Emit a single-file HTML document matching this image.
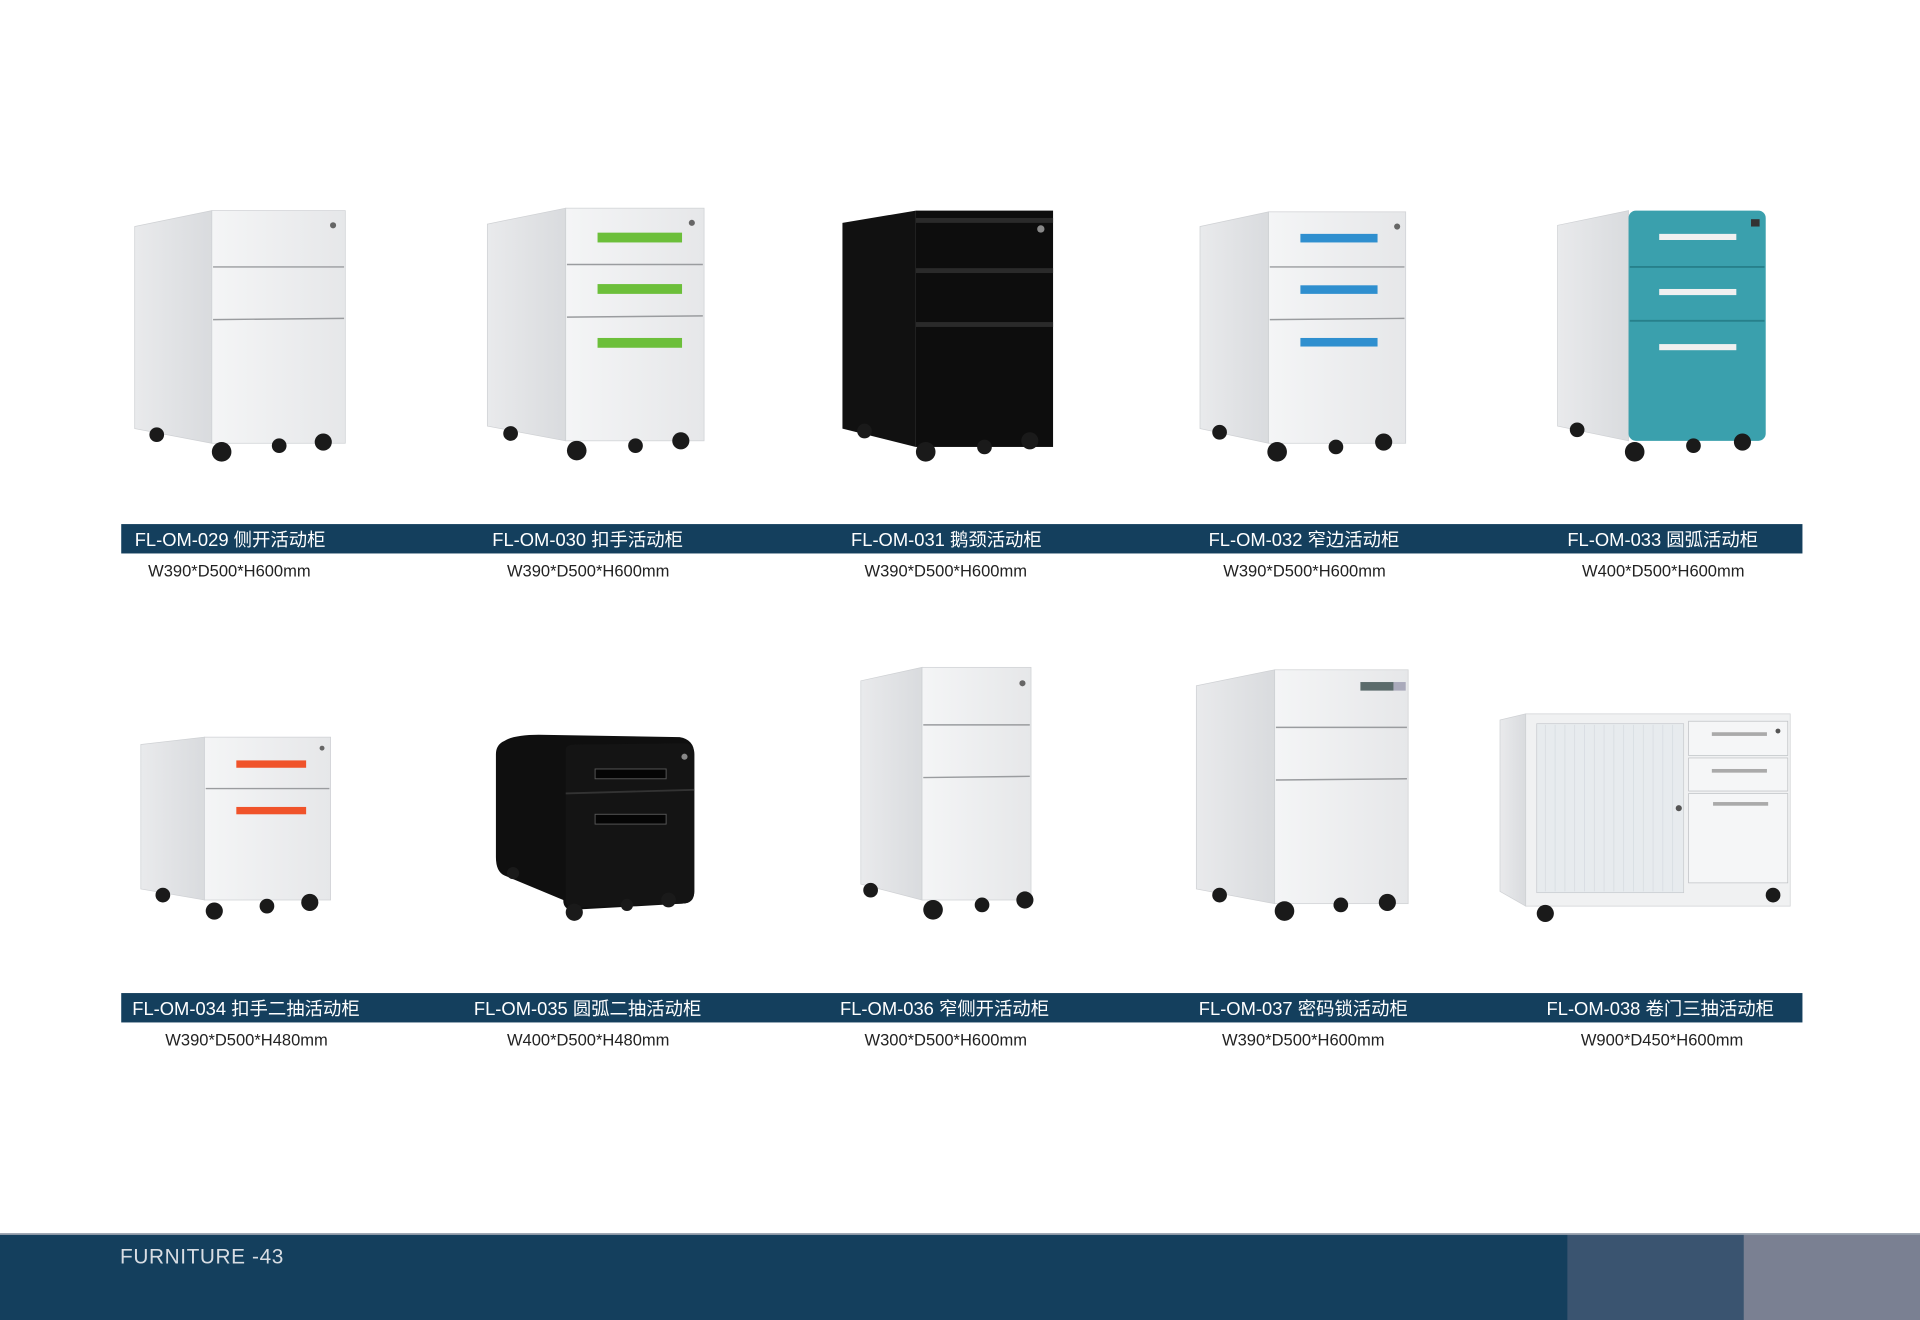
<!DOCTYPE html>
<html><head><meta charset="utf-8"><style>
html,body{margin:0;padding:0;background:#fff;}
svg{display:block;}
text{font-family:"Liberation Sans","Noto Sans CJK SC",sans-serif;}
</style></head><body>
<svg width="1920" height="1320" viewBox="0 0 1568 1078" preserveAspectRatio="none" xmlns="http://www.w3.org/2000/svg">
<rect width="1568" height="1078" fill="#fff"/>
<defs>
<linearGradient id="side" x1="0" x2="1"><stop offset="0" stop-color="#e9eaec"/><stop offset="1" stop-color="#d9dbde"/></linearGradient>
<linearGradient id="front" x1="0" x2="1"><stop offset="0" stop-color="#f4f5f6"/><stop offset="1" stop-color="#e6e7e9"/></linearGradient>
</defs>

<!-- cab1 -->
<polygon points="110,185 173,172 173,362 110,350" fill="url(#side)" stroke="#cfd1d4" stroke-width="0.6"/>
<rect x="173" y="172" width="109" height="190" fill="url(#front)" stroke="#cfd1d4" stroke-width="0.6"/>
<line x1="174" y1="218" x2="281" y2="218" stroke="#9a9c9f" stroke-width="1.2"/>
<line x1="174" y1="261" x2="281" y2="260" stroke="#9a9c9f" stroke-width="1.2"/>
<circle cx="272" cy="184" r="2.5" fill="#666"/>

<!-- cab2 -->
<polygon points="398,183 462,170 462,360 398,348" fill="url(#side)" stroke="#cfd1d4" stroke-width="0.6"/>
<rect x="462" y="170" width="113" height="190" fill="url(#front)" stroke="#cfd1d4" stroke-width="0.6"/>
<line x1="463" y1="216" x2="574" y2="216" stroke="#9a9c9f" stroke-width="1.2"/>
<line x1="463" y1="259" x2="574" y2="258" stroke="#9a9c9f" stroke-width="1.2"/>
<rect x="488" y="190" width="69" height="8" fill="#6cbf3a"/>
<rect x="488" y="232" width="69" height="8" fill="#6cbf3a"/>
<rect x="488" y="276" width="69" height="8" fill="#6cbf3a"/>
<circle cx="565" cy="182" r="2.5" fill="#666"/>

<!-- cab3 black -->
<polygon points="688,182 748,172 748,365 688,350" fill="#111"/>
<rect x="748" y="172" width="112" height="193" fill="#0d0d0d"/>
<rect x="748" y="178" width="112" height="4" fill="#2a2a2a"/>
<rect x="748" y="219" width="112" height="4" fill="#2a2a2a"/>
<rect x="748" y="263" width="112" height="4" fill="#2a2a2a"/>
<circle cx="850" cy="187" r="3" fill="#888"/>

<!-- cab4 -->
<polygon points="980,185 1036,173 1036,362 980,350" fill="url(#side)" stroke="#cfd1d4" stroke-width="0.6"/>
<rect x="1036" y="173" width="112" height="189" fill="url(#front)" stroke="#cfd1d4" stroke-width="0.6"/>
<line x1="1037" y1="218" x2="1147" y2="218" stroke="#9a9c9f" stroke-width="1.2"/>
<line x1="1037" y1="261" x2="1147" y2="260" stroke="#9a9c9f" stroke-width="1.2"/>
<rect x="1062" y="191" width="63" height="7" fill="#2f8fcf"/>
<rect x="1062" y="233" width="63" height="7" fill="#2f8fcf"/>
<rect x="1062" y="276" width="63" height="7" fill="#2f8fcf"/>
<circle cx="1141" cy="185" r="2.5" fill="#666"/>

<!-- cab5 teal -->
<polygon points="1272,184 1330,172 1330,360 1272,348" fill="url(#side)" stroke="#cfd1d4" stroke-width="0.6"/>
<rect x="1330" y="172" width="112" height="188" rx="6" fill="#3aa0ad"/>
<line x1="1331" y1="218" x2="1441" y2="218" stroke="#27808b" stroke-width="1.5"/>
<line x1="1331" y1="262" x2="1441" y2="262" stroke="#27808b" stroke-width="1.5"/>
<rect x="1355" y="191" width="63" height="5" fill="#f0f0f0"/>
<rect x="1355" y="236" width="63" height="5" fill="#f0f0f0"/>
<rect x="1355" y="281" width="63" height="5" fill="#f0f0f0"/>
<rect x="1430" y="179" width="7" height="6" fill="#333"/>

<!-- cab6 -->
<polygon points="115,608 167,602 167,735 115,726" fill="url(#side)" stroke="#cfd1d4" stroke-width="0.6"/>
<rect x="167" y="602" width="103" height="133" fill="url(#front)" stroke="#cfd1d4" stroke-width="0.6"/>
<line x1="168" y1="644" x2="269" y2="644" stroke="#9a9c9f" stroke-width="1.2"/>
<rect x="193" y="621" width="57" height="6" fill="#f0532a"/>
<rect x="193" y="659" width="57" height="6" fill="#f0532a"/>
<circle cx="263" cy="611" r="2" fill="#666"/>

<!-- cab7 black rounded -->
<path d="M412,605 Q420,600 440,600 L555,602 Q567,604 567,616 L567,728 Q567,738 557,738 L468,743 Q460,743 460,735 L412,715 Q405,712 405,700 L405,616 Q405,608 412,605 Z" fill="#0f0f0f"/>
<path d="M462,612 Q462,608 470,608 L560,607 Q567,608 567,616 L567,728 Q567,738 557,738 L468,741 Q462,741 462,734 Z" fill="#141414"/>
<line x1="462" y1="648" x2="567" y2="645" stroke="#333" stroke-width="1.5"/>
<rect x="486" y="628" width="58" height="8" fill="#050505" stroke="#555" stroke-width="0.8"/>
<rect x="486" y="665" width="58" height="8" fill="#050505" stroke="#555" stroke-width="0.8"/>
<circle cx="559" cy="618" r="2.5" fill="#888"/>

<!-- cab8 -->
<polygon points="703,556 753,545 753,735 703,722" fill="url(#side)" stroke="#cfd1d4" stroke-width="0.6"/>
<rect x="753" y="545" width="89" height="190" fill="url(#front)" stroke="#cfd1d4" stroke-width="0.6"/>
<line x1="754" y1="592" x2="841" y2="592" stroke="#9a9c9f" stroke-width="1.2"/>
<line x1="754" y1="635" x2="841" y2="634" stroke="#9a9c9f" stroke-width="1.2"/>
<circle cx="835" cy="558" r="2.5" fill="#666"/>

<!-- cab9 -->
<polygon points="977,560 1041,547 1041,738 977,726" fill="url(#side)" stroke="#cfd1d4" stroke-width="0.6"/>
<rect x="1041" y="547" width="109" height="191" fill="url(#front)" stroke="#cfd1d4" stroke-width="0.6"/>
<line x1="1042" y1="594" x2="1149" y2="594" stroke="#9a9c9f" stroke-width="1.2"/>
<line x1="1042" y1="637" x2="1149" y2="636" stroke="#9a9c9f" stroke-width="1.2"/>
<rect x="1111" y="557" width="27" height="7" fill="#5b6b6b"/>
<rect x="1138" y="557" width="10" height="7" fill="#aab"/>

<!-- cab10 -->
<polygon points="1225,588 1246,583 1246,740 1225,728" fill="url(#side)" stroke="#cfd1d4" stroke-width="0.6"/>
<rect x="1246" y="583" width="216" height="157" fill="#f0f1f2" stroke="#cfd1d4" stroke-width="0.6"/>
<rect x="1255" y="591" width="120" height="138" fill="#e7ebee" stroke="#c8cbcf" stroke-width="0.6"/>
<g stroke="#d6dbe0" stroke-width="0.6">
<line x1="1262" y1="592" x2="1262" y2="728"/><line x1="1270" y1="592" x2="1270" y2="728"/><line x1="1278" y1="592" x2="1278" y2="728"/><line x1="1286" y1="592" x2="1286" y2="728"/><line x1="1294" y1="592" x2="1294" y2="728"/><line x1="1302" y1="592" x2="1302" y2="728"/><line x1="1310" y1="592" x2="1310" y2="728"/><line x1="1318" y1="592" x2="1318" y2="728"/><line x1="1326" y1="592" x2="1326" y2="728"/><line x1="1334" y1="592" x2="1334" y2="728"/><line x1="1342" y1="592" x2="1342" y2="728"/><line x1="1350" y1="592" x2="1350" y2="728"/><line x1="1358" y1="592" x2="1358" y2="728"/><line x1="1366" y1="592" x2="1366" y2="728"/>
</g>
<circle cx="1371" cy="660" r="2.5" fill="#555"/>
<rect x="1379" y="589" width="81" height="28" fill="#f5f6f7" stroke="#bfc2c5" stroke-width="0.6"/>
<rect x="1379" y="619" width="81" height="27" fill="#f5f6f7" stroke="#bfc2c5" stroke-width="0.6"/>
<rect x="1379" y="648" width="81" height="73" fill="#f5f6f7" stroke="#bfc2c5" stroke-width="0.6"/>
<rect x="1398" y="598" width="45" height="3" fill="#aaa"/>
<rect x="1398" y="628" width="45" height="3" fill="#aaa"/>
<rect x="1399" y="655" width="45" height="3" fill="#aaa"/>
<circle cx="1452" cy="597" r="2" fill="#555"/>

<g id="wheels" fill="#1a1a1a">
<circle cx="128" cy="355" r="6"/><circle cx="181" cy="369" r="8"/><circle cx="228" cy="364" r="6"/><circle cx="264" cy="361" r="7"/>
<circle cx="417" cy="354" r="6"/><circle cx="471" cy="368" r="8"/><circle cx="519" cy="364" r="6"/><circle cx="556" cy="360" r="7"/>
<circle cx="706" cy="352" r="6"/><circle cx="756" cy="369" r="8"/><circle cx="804" cy="365" r="6"/><circle cx="841" cy="360" r="7"/>
<circle cx="996" cy="353" r="6"/><circle cx="1043" cy="369" r="8"/><circle cx="1091" cy="365" r="6"/><circle cx="1130" cy="361" r="7"/>
<circle cx="1288" cy="351" r="6"/><circle cx="1335" cy="369" r="8"/><circle cx="1383" cy="364" r="6"/><circle cx="1423" cy="361" r="7"/>
<circle cx="133" cy="731" r="6"/><circle cx="175" cy="744" r="7"/><circle cx="218" cy="740" r="6"/><circle cx="253" cy="737" r="7"/>
<circle cx="419" cy="713" r="5"/><circle cx="469" cy="745" r="7"/><circle cx="512" cy="739" r="5"/><circle cx="546" cy="735" r="6"/>
<circle cx="711" cy="727" r="6"/><circle cx="762" cy="743" r="8"/><circle cx="802" cy="739" r="6"/><circle cx="837" cy="735" r="7"/>
<circle cx="996" cy="731" r="6"/><circle cx="1049" cy="744" r="8"/><circle cx="1095" cy="739" r="6"/><circle cx="1133" cy="737" r="7"/>
<circle cx="1262" cy="746" r="7"/><circle cx="1448" cy="731" r="6"/>
</g>

<!-- label bars -->
<rect x="99" y="428" width="1373" height="24" fill="#143f5d"/>
<rect x="99" y="811" width="1373" height="24" fill="#143f5d"/>
<g fill="#ffffff" font-size="15">
<text x="110" y="446">FL-OM-029 侧开活动柜</text>
<text x="402" y="446">FL-OM-030 扣手活动柜</text>
<text x="695" y="446">FL-OM-031 鹅颈活动柜</text>
<text x="987" y="446">FL-OM-032 窄边活动柜</text>
<text x="1280" y="446">FL-OM-033 圆弧活动柜</text>
<text x="108" y="829">FL-OM-034 扣手二抽活动柜</text>
<text x="387" y="829">FL-OM-035 圆弧二抽活动柜</text>
<text x="686" y="829">FL-OM-036 窄侧开活动柜</text>
<text x="979" y="829">FL-OM-037 密码锁活动柜</text>
<text x="1263" y="829">FL-OM-038 卷门三抽活动柜</text>
</g>
<g fill="#222" font-size="13.5">
<text x="121" y="471">W390*D500*H600mm</text>
<text x="414" y="471">W390*D500*H600mm</text>
<text x="706" y="471">W390*D500*H600mm</text>
<text x="999" y="471">W390*D500*H600mm</text>
<text x="1292" y="471">W400*D500*H600mm</text>
<text x="135" y="854">W390*D500*H480mm</text>
<text x="414" y="854">W400*D500*H480mm</text>
<text x="706" y="854">W300*D500*H600mm</text>
<text x="998" y="854">W390*D500*H600mm</text>
<text x="1291" y="854">W900*D450*H600mm</text>
</g>

<!-- footer -->
<rect x="0" y="1008" width="1568" height="70" fill="#143f5d"/>
<rect x="1280" y="1008" width="144" height="70" fill="#3a5470"/>
<rect x="1424" y="1008" width="144" height="70" fill="#7a8092"/>
<rect x="0" y="1007" width="1568" height="1.5" fill="#9aa3b0"/>
<text x="98" y="1032" fill="#d8dde3" font-size="17" font-weight="300" letter-spacing="0.5">FURNITURE  -43</text>
</svg>
</body></html>
